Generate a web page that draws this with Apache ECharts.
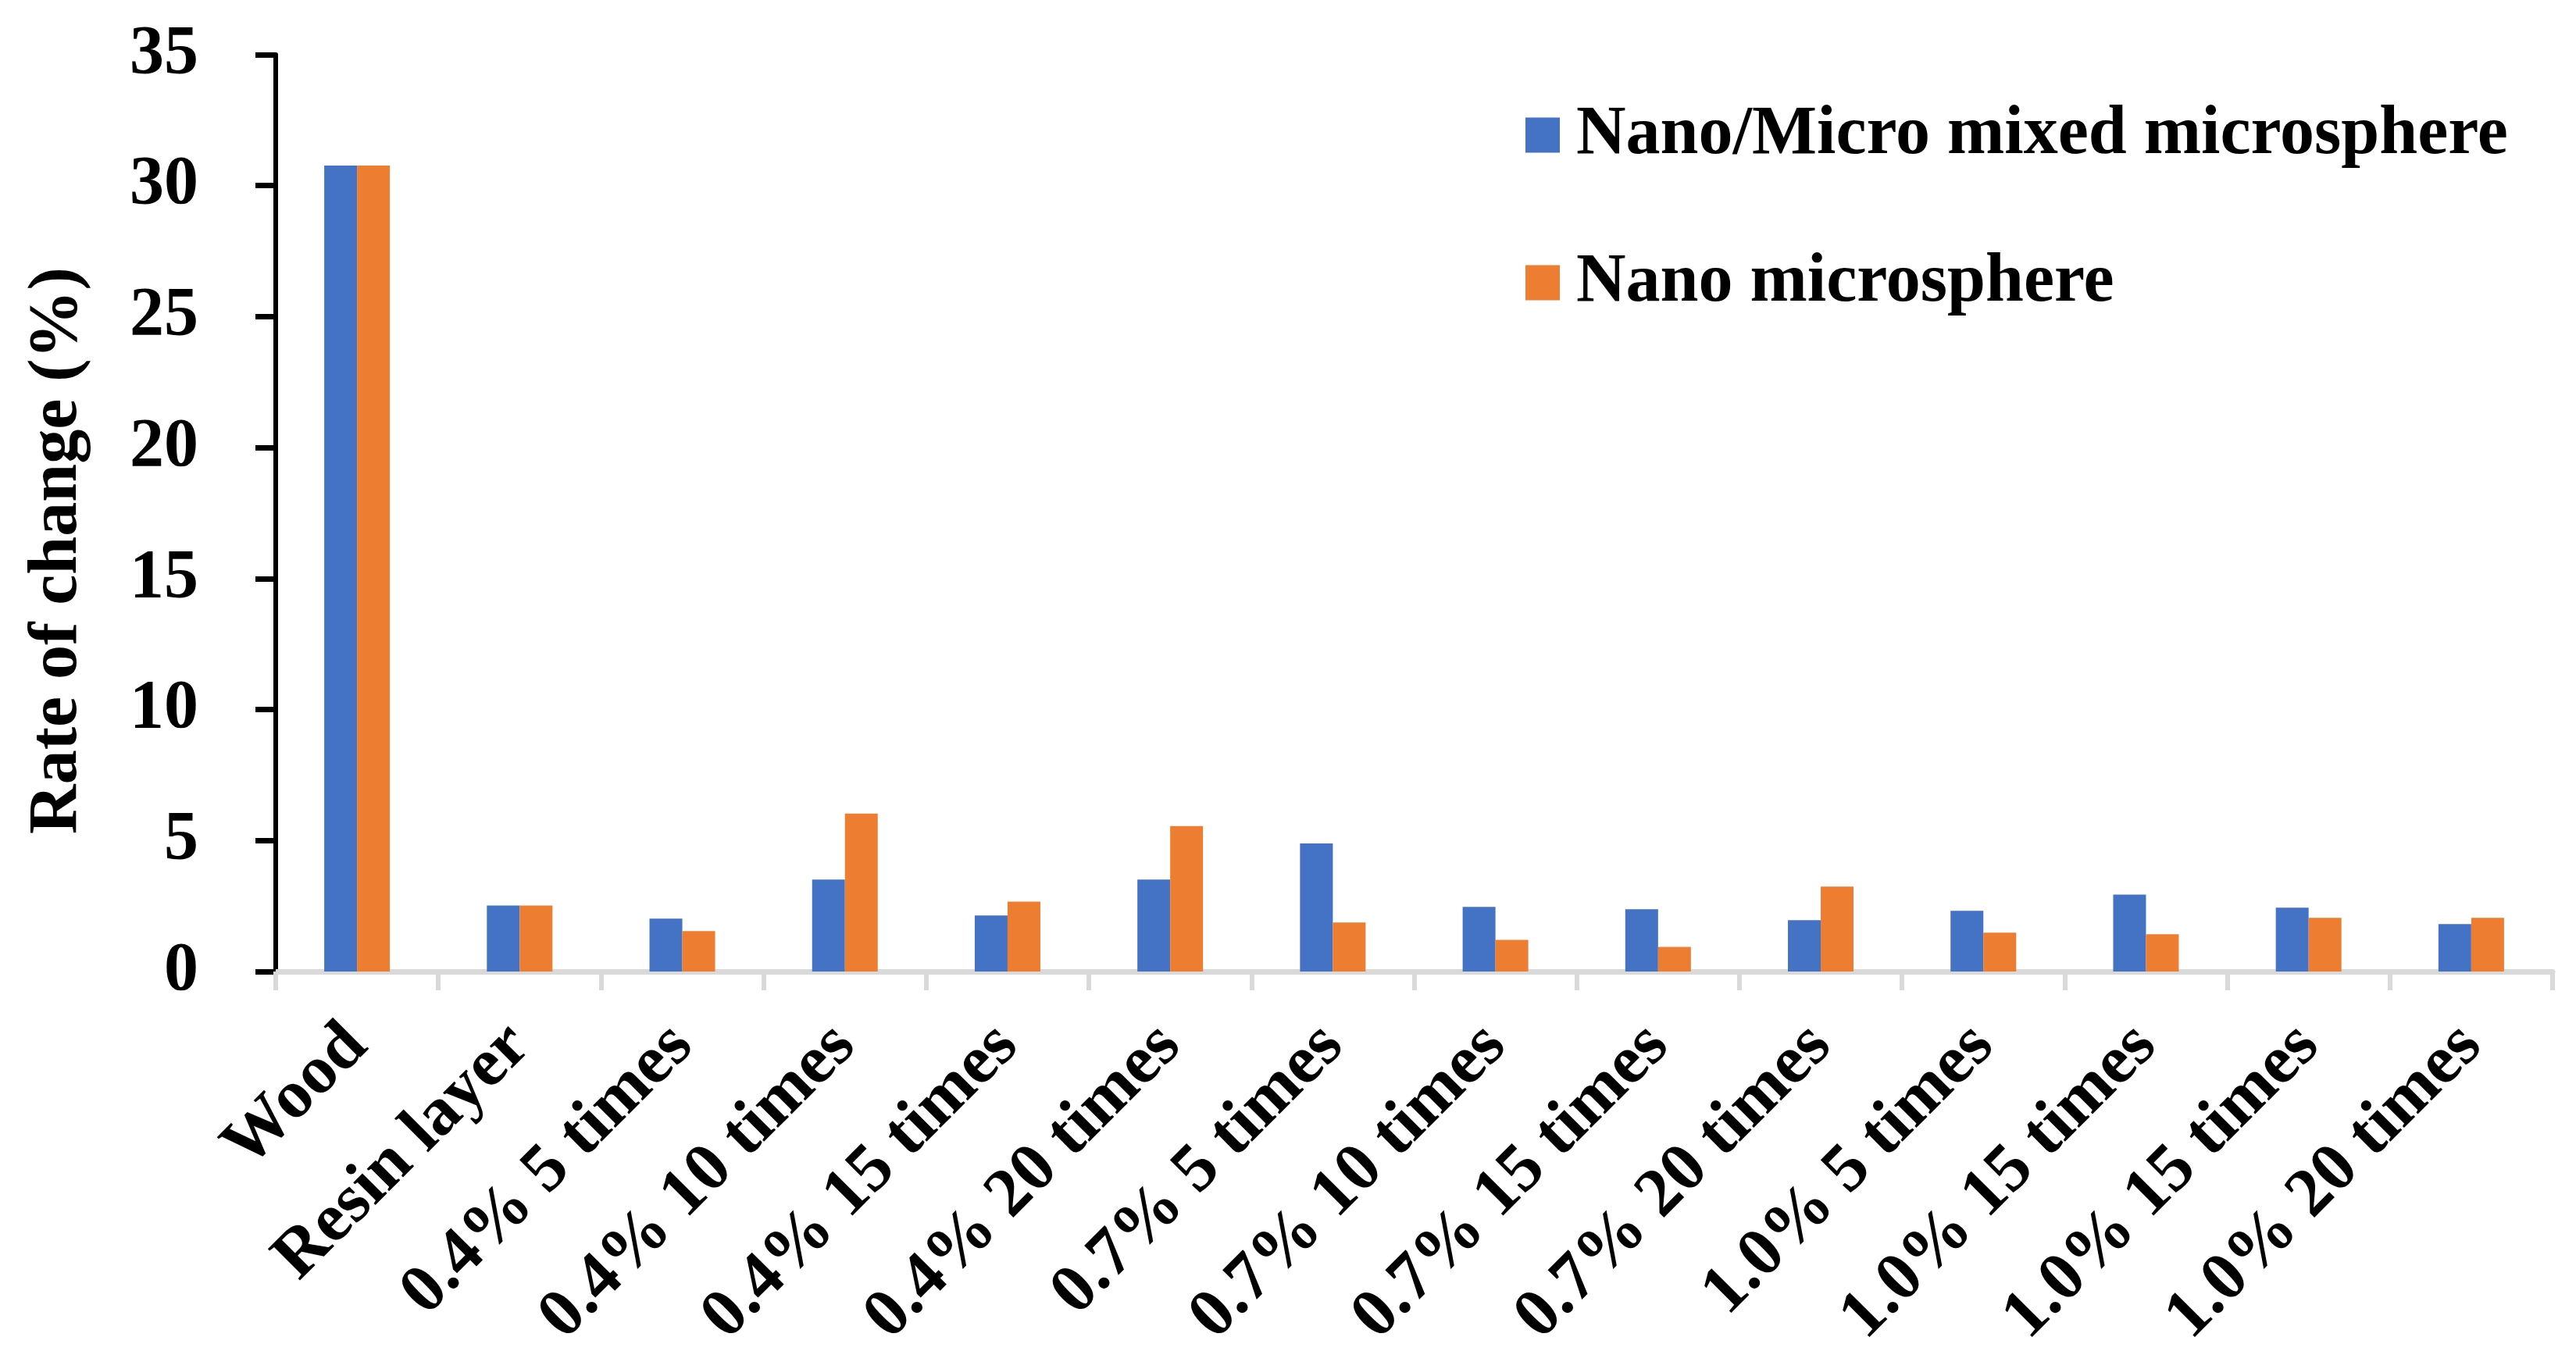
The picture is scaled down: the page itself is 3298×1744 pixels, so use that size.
<!DOCTYPE html>
<html>
<head>
<meta charset="utf-8">
<script src="https://cdn.jsdelivr.net/npm/echarts@6/dist/echarts.min.js"></script>
<style>
html,body{margin:0;padding:0;background:#fff;}
#chart{width:3298px;height:1744px;}
</style>
</head>
<body>
<div id="chart"></div>
<script>
const categories = ['Wood','Resin layer','0.4% 5 times','0.4% 10 times','0.4% 15 times','0.4% 20 times','0.7% 5 times','0.7% 10 times','0.7% 15 times','0.7% 20 times','1.0% 5 times','1.0% 15 times','1.0% 15 times','1.0% 20 times'];
const mixedValues = [30.77, 2.52, 2.02, 3.51, 2.14, 3.51, 4.89, 2.47, 2.38, 1.96, 2.32, 2.94, 2.44, 1.81];
const nanoValues  = [30.77, 2.52, 1.54, 6.03, 2.67, 5.55, 1.87, 1.21, 0.94, 3.24, 1.48, 1.42, 2.05, 2.05];
const seriesNames = ['Nano/Micro mixed microsphere', 'Nano microsphere'];
const yTitle = 'Rate of change (%)';

const FONT = "'Liberation Serif', 'Times New Roman', serif";
const chart = echarts.init(document.getElementById('chart'));
chart.setOption({
  animation: false,
  backgroundColor: '#fff',
  textStyle: { fontFamily: FONT },
  grid: { left: 353, right: 30, top: 70, bottom: 500, containLabel: false },
  legend: {
    orient: 'vertical',
    left: 1948,
    top: 124,
    icon: 'rect',
    itemWidth: 44,
    itemHeight: 45,
    itemGap: 101,
    textStyle: { fontFamily: FONT, fontWeight: 'bold', fontSize: 88, color: '#000', lineHeight: 88, padding: [0, 0, 0, 16] },
    data: seriesNames
  },
  graphic: [{
    type: 'text',
    x: 74, y: 705,
    rotation: Math.PI / 2,
    style: { text: yTitle, fontFamily: FONT, fontWeight: 'bold', fontSize: 88, fill: '#000', textAlign: 'center', textVerticalAlign: 'middle' }
  }],
  xAxis: {
    type: 'category',
    data: categories,
    axisLine: { show: true, lineStyle: { color: '#d9d9d9', width: 7 } },
    axisTick: { show: true, alignWithLabel: false, length: 24, lineStyle: { color: '#d9d9d9', width: 6 } },
    axisLabel: { interval: 0, rotate: 45, margin: 82, fontFamily: FONT, fontWeight: 'bold', fontSize: 88, color: '#000' },
    splitLine: { show: false }
  },
  yAxis: {
    type: 'value',
    min: 0, max: 35, interval: 5,
    axisLine: { show: true, lineStyle: { color: '#000', width: 6 } },
    axisTick: { show: true, inside: false, length: 26, lineStyle: { color: '#000', width: 7 } },
    axisLabel: { margin: 99, fontFamily: FONT, fontWeight: 'bold', fontSize: 88, color: '#000' },
    splitLine: { show: false }
  },
  series: [
    { name: seriesNames[0], type: 'bar', data: mixedValues, barWidth: 42, barGap: '0%', itemStyle: { color: '#4472C4' } },
    { name: seriesNames[1], type: 'bar', data: nanoValues, barWidth: 42, barGap: '0%', itemStyle: { color: '#ED7D31' } }
  ]
});
</script>
</body>
</html>
